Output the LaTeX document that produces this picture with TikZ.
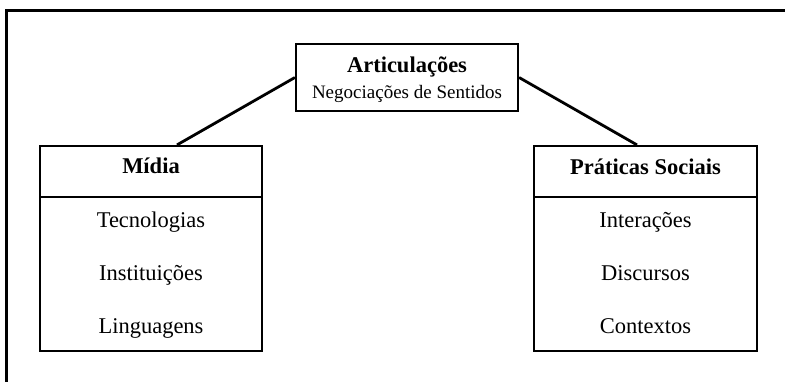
\documentclass[tikz,border=0pt]{standalone}
\usepackage{fontspec}
\setmainfont{Liberation Serif}
\begin{document}
\begin{tikzpicture}[x=1pt,y=-1pt,
  frame/.style={line width=3pt},
  box/.style={draw,line width=2.2pt,rectangle,inner sep=0pt},
  conn/.style={line width=2.8pt},
  divider/.style={line width=1.2pt},
  ttl/.style={anchor=base,inner sep=0pt,font=\fontsize{22.5}{27}\selectfont\bfseries},
  itm/.style={anchor=base,inner sep=0pt,font=\fontsize{22.5}{27}\selectfont},
  sub/.style={anchor=base,inner sep=0pt,font=\fontsize{19}{23}\selectfont}]
\useasboundingbox (0,0) rectangle (785,381);
% outer frame (top and left only)
\coordinate (fbl) at (6,383);
\coordinate (ftl) at (6,10);
\coordinate (ftr) at (787,10);
\draw[frame] (fbl) -- (ftl) -- (ftr);
% boxes
\node[box,minimum width=222pt,minimum height=67pt] (art) at (407,77.5) {};
\node[box,minimum width=222pt,minimum height=205pt] (midia) at (151,248.5) {};
\node[box,minimum width=223pt,minimum height=205pt] (prat) at (645.5,248.5) {};
% dividers
\coordinate (ml) at (40,197); \coordinate (mr) at (262,197);
\coordinate (pl) at (534,197); \coordinate (pr) at (757,197);
\draw[divider] (ml) -- (mr);
\draw[divider] (pl) -- (pr);
% texts
\node[ttl] (artt) at (407,72) {Articulações};
\node[sub] (arts) at (407,98) {Negociações de Sentidos};
\node[ttl] (mt) at (151,173) {Mídia};
\node[itm] (m1) at (151,227) {Tecnologias};
\node[itm] (m2) at (151,280) {Instituições};
\node[itm] (m3) at (151,333) {Linguagens};
\node[ttl] (pt) at (645.5,174) {Práticas Sociais};
\node[itm] (p1) at (645.5,227) {Interações};
\node[itm] (p2) at (645.5,280) {Discursos};
\node[itm] (p3) at (645.5,333) {Contextos};
% connectors
\draw[conn] (art.west) -- ([xshift=26pt]midia.north);
\draw[conn] (art.east) -- ([xshift=-8.5pt]prat.north);
\end{tikzpicture}
\end{document}
